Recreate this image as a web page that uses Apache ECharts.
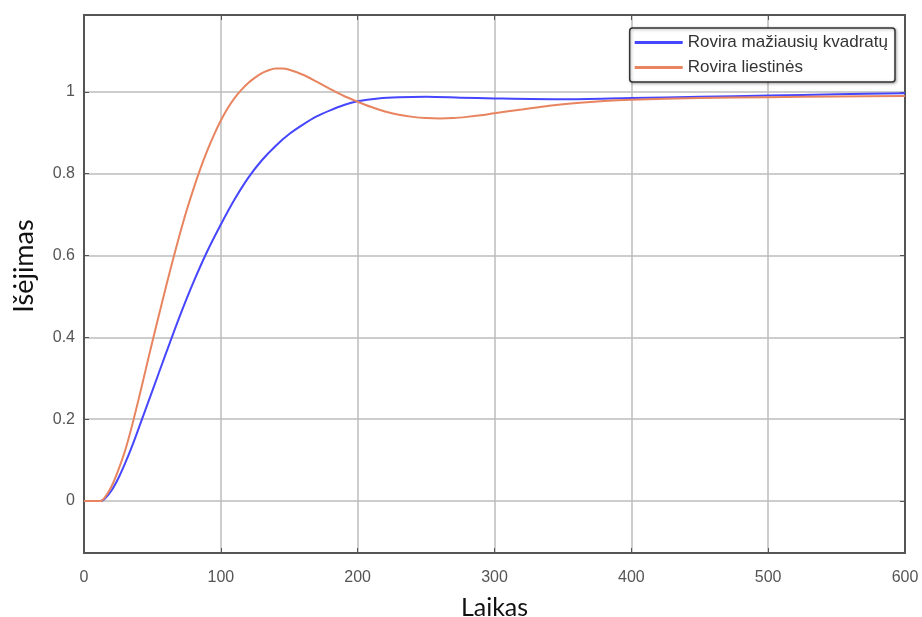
<!DOCTYPE html>
<html>
<head>
<meta charset="utf-8">
<script src="https://cdn.jsdelivr.net/npm/echarts@6/dist/echarts.min.js"></script>
<style>html,body{margin:0;padding:0;background:#fff}#c{width:922px;height:617px}</style>
</head>
<body>
<div id="c"></div>
<script>
const seriesNames = ['Rovira mažiausių kvadratų', 'Rovira liestinės'];
const xTicks = [0, 100, 200, 300, 400, 500, 600];
const yTicks = [0, 0.2, 0.4, 0.6, 0.8, 1];

const blueT = [0, 12, 15, 20, 25, 30, 35, 40, 50, 60, 70, 80, 90, 100, 110, 120, 130, 140, 150, 160, 170, 180, 190, 200, 215, 230, 250, 275, 300, 350, 400, 450, 500, 550, 600];
const blueV = [0, 0, 0.005, 0.025, 0.055, 0.092, 0.133, 0.178, 0.27, 0.362, 0.452, 0.535, 0.61, 0.676, 0.737, 0.79, 0.833, 0.868, 0.897, 0.92, 0.94, 0.955, 0.968, 0.977, 0.984, 0.987, 0.988, 0.986, 0.984, 0.982, 0.985, 0.988, 0.991, 0.994, 0.997];

const orangeT = [0, 12, 15, 20, 25, 30, 35, 40, 45, 50, 55, 60, 65, 70, 75, 80, 85, 90, 95, 100, 105, 110, 115, 120, 125, 130, 135, 140, 145, 150, 160, 170, 180, 190, 200, 210, 220, 230, 240, 250, 260, 270, 280, 290, 300, 320, 340, 360, 380, 400, 450, 500, 550, 600];
const orangeV = [0, 0, 0.008, 0.035, 0.075, 0.123, 0.183, 0.25, 0.32, 0.39, 0.458, 0.525, 0.59, 0.652, 0.71, 0.763, 0.812, 0.856, 0.895, 0.93, 0.96, 0.985, 1.005, 1.022, 1.035, 1.046, 1.053, 1.057, 1.057, 1.054, 1.042, 1.025, 1.007, 0.99, 0.976, 0.963, 0.952, 0.944, 0.939, 0.936, 0.935, 0.936, 0.939, 0.943, 0.948, 0.957, 0.966, 0.973, 0.978, 0.981, 0.985, 0.987, 0.989, 0.99];

const pairs = (t, v) => t.map((x, i) => [x, v[i]]);

const chart = echarts.init(document.getElementById('c'), null, {renderer: 'canvas'});
const gridColor = '#bcbcbc';
const frameColor = '#555';
const labelFont = {fontFamily: 'Liberation Sans', fontSize: 16, color: '#555'};
const nameFont = {fontFamily: 'Lato', fontSize: 25, color: '#111'};

const frameAxis = {
  axisLine: {show: true, onZero: false, lineStyle: {color: frameColor, width: 2}},
  axisTick: {show: true, inside: true, length: 5, lineStyle: {color: frameColor, width: 1}},
  axisLabel: {show: false},
  splitLine: {show: false}
};

chart.setOption({
  animation: false,
  backgroundColor: '#fff',
  grid: {left: 84, right: 17, top: 15, bottom: 64, show: false, outerBoundsMode: 'none', containLabel: false},
  legend: {
    orient: 'vertical',
    right: 27, top: 28,
    data: seriesNames,
    icon: 'rect',
    itemWidth: 48, itemHeight: 3, itemGap: 8,
    padding: [6, 7, 6, 5],
    backgroundColor: '#fff',
    borderColor: '#333', borderWidth: 1.5, borderRadius: 3,
    shadowColor: 'rgba(0,0,0,0.3)', shadowBlur: 3, shadowOffsetX: 1, shadowOffsetY: 1,
    textStyle: {fontFamily: 'Liberation Sans', fontSize: 17, color: '#333', lineHeight: 16}
  },
  graphic: [{
    type: 'text', x: 24, y: 266, rotation: Math.PI / 2,
    style: {text: 'Išėjimas', fontFamily: 'Lato', fontSize: 27, fill: '#111', align: 'center', verticalAlign: 'middle'}
  }],
  xAxis: [{
    type: 'value', min: 0, max: 600, interval: 100,
    position: 'bottom',
    name: 'Laikas', nameLocation: 'middle', nameGap: 42, nameTextStyle: nameFont,
    axisLine: {show: true, onZero: false, lineStyle: {color: frameColor, width: 2}},
    axisTick: {show: true, inside: true, length: 5, lineStyle: {color: frameColor, width: 1}},
    axisLabel: Object.assign({margin: 17}, labelFont),
    splitLine: {show: true, lineStyle: {color: gridColor, width: 1.5}}
  }, Object.assign({
    type: 'value', min: 0, max: 600, interval: 100, position: 'top'
  }, frameAxis)],
  yAxis: [{
    type: 'value', min: -0.127, max: 1.188,
    position: 'left',
    axisLine: {show: true, onZero: false, lineStyle: {color: frameColor, width: 2}},
    axisTick: {show: true, inside: true, length: 5, customValues: yTicks, lineStyle: {color: frameColor, width: 1}},
    axisLabel: Object.assign({margin: 9, customValues: yTicks}, labelFont),
    splitLine: {show: true, lineStyle: {color: gridColor, width: 1.5}}
  }, {
    type: 'value', min: -0.127, max: 1.188, position: 'right',
    axisLine: {show: true, onZero: false, lineStyle: {color: frameColor, width: 2}},
    axisTick: {show: true, inside: true, length: 5, customValues: yTicks, lineStyle: {color: frameColor, width: 1}},
    axisLabel: {show: false},
    splitLine: {show: false}
  }],
  series: [{
    name: seriesNames[0], type: 'line', xAxisIndex: 0, yAxisIndex: 0,
    data: pairs(blueT, blueV), showSymbol: false, symbol: 'none',
    smooth: 0.3,
    itemStyle: {color: '#4646ff'},
    lineStyle: {color: '#4646ff', width: 2}
  }, {
    name: seriesNames[1], type: 'line', xAxisIndex: 0, yAxisIndex: 0,
    data: pairs(orangeT, orangeV), showSymbol: false, symbol: 'none',
    smooth: 0.3,
    itemStyle: {color: '#e8845f'},
    lineStyle: {color: '#e8845f', width: 2}
  }]
});
</script>
</body>
</html>
